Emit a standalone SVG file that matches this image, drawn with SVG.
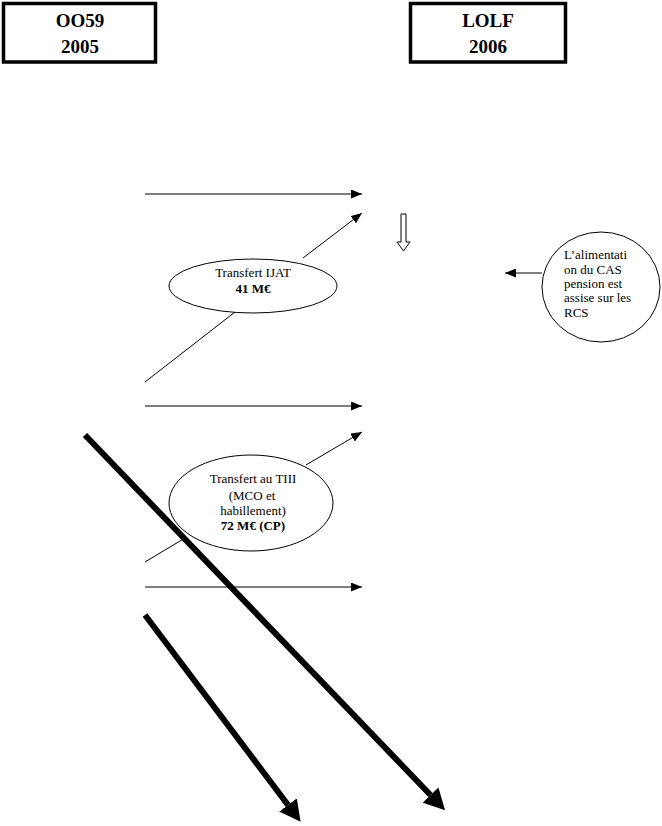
<svg xmlns="http://www.w3.org/2000/svg" width="662" height="826" viewBox="0 0 662 826">
<style>
.box{fill:#fff;stroke:#000;stroke-width:3.5}
.hdr{font-family:"Liberation Serif","Times New Roman",serif;font-size:19px;font-weight:bold;text-anchor:middle;fill:#000}
.shape{fill:#fff;stroke:#000;stroke-width:1}
.t{font-family:"Liberation Serif","Times New Roman",serif;font-size:13px;fill:#000}
.c{text-anchor:middle}
.b{font-weight:bold}
.thin{stroke:#000;stroke-width:1;fill:none}
.thick{stroke:#000;stroke-width:6;fill:none}
</style>
<defs>
<marker id="ah" markerUnits="userSpaceOnUse" markerWidth="11" markerHeight="9" refX="11" refY="4.5" orient="auto">
<path d="M0,0 L11,4.5 L0,9 z" fill="#000"/>
</marker>
<marker id="big" markerUnits="userSpaceOnUse" markerWidth="22" markerHeight="22" refX="0" refY="11" orient="auto">
<path d="M0,0 L21,11 L0,22 z" fill="#000"/>
</marker>
</defs>
<rect width="662" height="826" fill="#fff"/>

<g id="box-oo59">
<rect class="box" x="3.5" y="3.5" width="152" height="58.5"/>
<text class="hdr" x="80" y="27">OO59</text>
<text class="hdr" x="80" y="53">2005</text>
</g>

<g id="box-lolf">
<rect class="box" x="410.5" y="3.5" width="155" height="58.5"/>
<text class="hdr" x="488" y="27">LOLF</text>
<text class="hdr" x="488" y="53">2006</text>
</g>

<g id="down-arrow">
<polygon class="shape" points="401,214 406,214 406,242 410,242 403.5,251 397,242 401,242"/>
</g>

<g id="transfert-ijat">
<ellipse class="shape" cx="253" cy="286" rx="84" ry="27"/>
<text class="t c" x="253" y="277">Transfert IJAT</text>
<text class="t c b" x="253" y="293">41 M€</text>
</g>

<g id="transfert-tiii">
<ellipse class="shape" cx="251" cy="503" rx="82" ry="48"/>
<text class="t c" x="253" y="483">Transfert au TIII</text>
<text class="t c" x="252" y="500">(MCO  et</text>
<text class="t c" x="253" y="515">habillement)</text>
<text class="t c b" x="253" y="530">72 M€ (CP)</text>
</g>

<g id="cas-pension">
<ellipse class="shape" cx="601" cy="287" rx="59" ry="55"/>
<text class="t" x="564" y="259">L’alimentati</text>
<text class="t" x="564" y="274">on du CAS</text>
<text class="t" x="564" y="288">pension est</text>
<text class="t" x="564" y="302">assise sur les</text>
<text class="t" x="564" y="317">RCS</text>
</g>

<g id="connectors">
<line class="thin" x1="145" y1="194" x2="362" y2="194" marker-end="url(#ah)"/>
<line class="thin" x1="145" y1="382" x2="235" y2="312"/>
<line class="thin" x1="303" y1="258" x2="362" y2="213" marker-end="url(#ah)"/>
<line class="thin" x1="145" y1="406" x2="362" y2="406" marker-end="url(#ah)"/>
<line class="thin" x1="145" y1="562" x2="185" y2="538"/>
<line class="thin" x1="306" y1="465" x2="362" y2="432" marker-end="url(#ah)"/>
<line class="thin" x1="145" y1="587" x2="362" y2="587" marker-end="url(#ah)"/>
<line class="thin" x1="542" y1="273" x2="505" y2="273" marker-end="url(#ah)"/>
<line class="thick" x1="85" y1="435" x2="430.5" y2="795" marker-end="url(#big)"/>
<line class="thick" x1="145" y1="615" x2="288" y2="805" marker-end="url(#big)"/>
</g>
</svg>
